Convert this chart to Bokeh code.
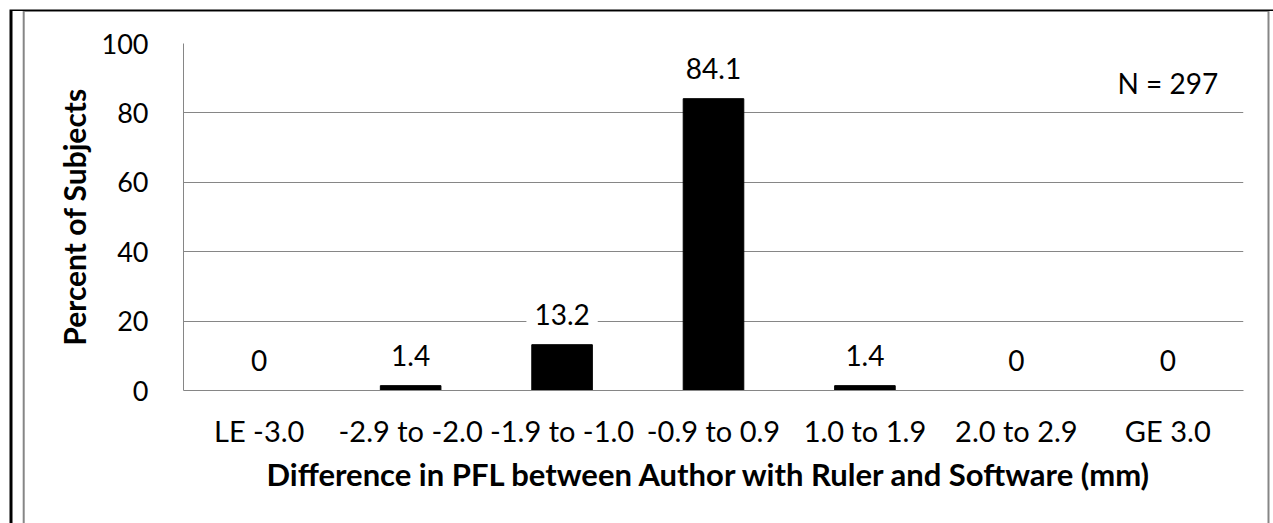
from bokeh.plotting import figure
from bokeh.models import ColumnDataSource, Label, FactorRange
from bokeh.embed import file_html
from bokeh.resources import INLINE
from bokeh.core.properties import value

# ---- data ----
categories = ["LE -3.0", "-2.9 to -2.0", "-1.9 to -1.0", "-0.9 to 0.9",
              "1.0 to 1.9", "2.0 to 2.9", "GE 3.0"]
percent = [0, 1.4, 13.2, 84.1, 1.4, 0, 0]
labels = ["0", "1.4", "13.2", "84.1", "1.4", "0", "0"]
y_ticks = [0, 20, 40, 60, 80, 100]
x_title = "Difference in  PFL between Author with Ruler and Software (mm)"
y_title = "Percent of Subjects"
note = "N = 297"

FONT = "Lato"
GRID = "#868686"
W, H = 1273, 523
FL, FR, FT, FB = 183, 1243, 43, 390  # frame edges in canvas px

src = ColumnDataSource(dict(cat=categories, val=percent, lab=labels))

# page border (black) and chart border (gray) as layered inset shadows
frame_css = ", ".join([
    "inset 9.5px 9.5px 0 0 white",
    "inset 12.5px 11px 0 0 black",
    "inset 22.7px 11px 0 0 white",
    "inset -3.5px 0 0 0 white",
    f"inset 24.7px 12px 0 0 {GRID}",
    f"inset -5.5px 0 0 0 {GRID}",
])

p = figure(x_range=FactorRange(*categories), y_range=(0, 100),
           width=W, height=H, output_backend="svg", toolbar_location=None,
           min_border_left=FL, min_border_right=W - FR,
           min_border_top=FT, min_border_bottom=H - FB,
           styles={"box-shadow": frame_css, "background-color": "white"})
p.outline_line_color = None
p.background_fill_color = "white"
p.border_fill_color = None

p.vbar(x="cat", top="val", width=0.4, source=src, color="black")

p.text(x="cat", y="val", text="lab", source=src, y_offset=-30,
       text_align="center", text_baseline="middle",
       text_font=value(FONT), text_font_size="28px", text_color="black",
       background_fill_color="white", padding=dict(x=8, y=11))

# axes
p.yaxis.ticker = y_ticks
p.yaxis.axis_line_color = GRID
p.yaxis.major_tick_line_color = None
p.yaxis.minor_tick_line_color = None
p.yaxis.major_label_standoff = 29
p.yaxis.major_label_text_font = FONT
p.yaxis.major_label_text_font_size = "27px"
p.yaxis.major_label_text_color = "black"
p.yaxis.axis_label = y_title
p.yaxis.axis_label_text_font = FONT
p.yaxis.axis_label_text_font_size = "30px"
p.yaxis.axis_label_text_font_style = "bold"
p.yaxis.axis_label_text_color = "black"
p.yaxis.axis_label_standoff = 7

p.xaxis.axis_line_color = GRID
p.xaxis.major_tick_line_color = None
p.xaxis.minor_tick_line_color = None
p.xaxis.major_label_standoff = 16
p.xaxis.major_label_text_font = FONT
p.xaxis.major_label_text_font_size = "29px"
p.xaxis.major_label_text_color = "black"
p.xaxis.axis_label = x_title
p.xaxis.axis_label_text_font = FONT
p.xaxis.axis_label_text_font_size = "31px"
p.xaxis.axis_label_text_font_style = "bold"
p.xaxis.axis_label_text_color = "black"
p.xaxis.axis_label_standoff = 4

p.xgrid.grid_line_color = None
p.ygrid.grid_line_color = GRID
p.ygrid.grid_line_width = 1

p.add_layout(Label(x=6.5, y=88.6, text=note, text_align="center",
                   text_baseline="middle", text_font=FONT,
                   text_font_size="28px", text_color="black"))

open("out.html", "w").write(file_html(p, INLINE))
